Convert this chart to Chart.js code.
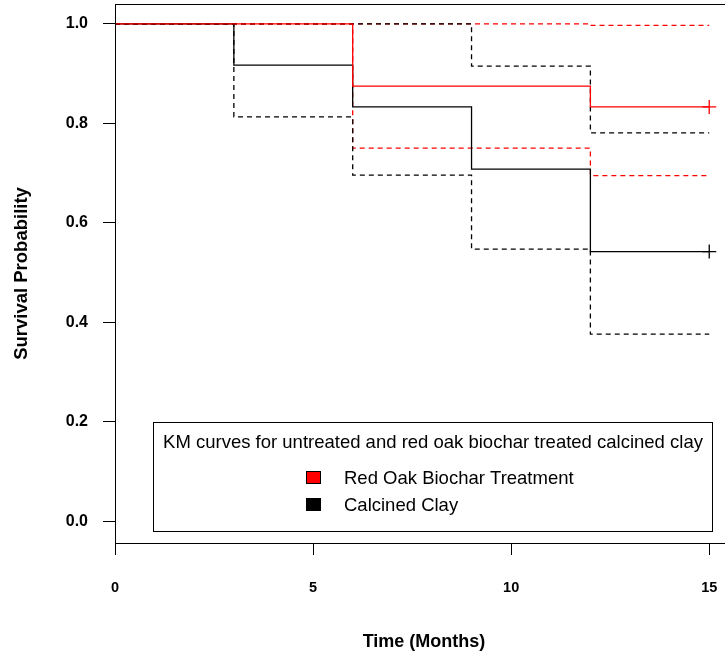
<!DOCTYPE html>
<html>
<head>
<meta charset="utf-8">
<script src="https://cdn.jsdelivr.net/npm/chart.js@4.4.0/dist/chart.umd.min.js"></script>
<style>
html, body { margin: 0; padding: 0; background: #fff; overflow: hidden; width: 725px; height: 655px; }
#wrap { width: 745px; height: 655px; }
</style>
</head>
<body>
<div id="wrap"><canvas id="km" width="745" height="655"></canvas></div>
<script>
// event times (months) and KM estimates
const times = [0, 3, 6, 9, 12, 15];
const biocharSurv = [1, 1, 0.875, 0.875, 0.833, 0.833];
const biocharUpper = [1, 1, 1, 1, 0.997, 0.997];
const biocharLower = [1, 1, 0.75, 0.75, 0.695, 0.695];
const claySurv = [1, 0.917, 0.833, 0.708, 0.542, 0.542];
const clayUpper = [1, 1, 1, 0.915, 0.781, 0.781];
const clayLower = [1, 0.813, 0.696, 0.547, 0.376, 0.376];

const censorTimes = [15];
const biocharCensor = [0.833];
const clayCensor = [0.542];

const xTicks = [0, 5, 10, 15];
const yTicks = [0, 0.2, 0.4, 0.6, 0.8, 1.0];
const legendTitle = 'KM curves for untreated and red oak biochar treated calcined clay';
const legendLabels = ['Red Oak Biochar Treatment', 'Calcined Clay'];
const legendColors = ['#ff0000', '#000000'];

Chart.defaults.font.family = '"Liberation Sans", Arial, sans-serif';
Chart.defaults.color = '#000';

function pts(xs, ys) {
    return xs.map((x, i) => ({ x: x, y: ys[i] }));
}

function stepLine(values, color, dashed) {
    return {
        data: pts(times, values),
        showLine: true,
        stepped: 'before',
        borderColor: color,
        borderWidth: 1.3,
        borderDash: dashed ? [5, 4] : [],
        pointRadius: 0,
        fill: false
    };
}

function censor(values, color) {
    return {
        data: pts(censorTimes, values),
        showLine: false,
        pointStyle: 'cross',
        pointRadius: 7,
        borderColor: color,
        borderWidth: 1.3
    };
}

// box around the plot region
const boxPlugin = {
    id: 'box',
    afterDraw(chart) {
        const { ctx, chartArea: a } = chart;
        ctx.save();
        ctx.strokeStyle = '#000';
        ctx.lineWidth = 1;
        ctx.strokeRect(Math.round(a.left) + 0.5, Math.round(a.top) + 0.5,
            Math.round(a.right - a.left), Math.round(a.bottom - a.top));
        ctx.restore();
    }
};

// R-style legend with title inside a box
const kmLegend = {
    id: 'kmLegend',
    afterDraw(chart) {
        const ctx = chart.ctx;
        const bx = 153.5, by = 422.5, bw = 559, bh = 109;
        ctx.save();
        ctx.fillStyle = '#fff';
        ctx.fillRect(bx, by, bw, bh);
        ctx.strokeStyle = '#000';
        ctx.lineWidth = 1;
        ctx.strokeRect(bx, by, bw, bh);

        ctx.fillStyle = '#000';
        ctx.font = '18.5px "Liberation Sans", Arial, sans-serif';
        ctx.textAlign = 'center';
        ctx.textBaseline = 'middle';
        ctx.fillText(legendTitle, bx + bw / 2, 443);

        ctx.textAlign = 'left';
        legendLabels.forEach((lab, i) => {
            const y = 478 + i * 27;
            ctx.fillStyle = legendColors[i];
            ctx.fillRect(306, y - 7, 15, 13);
            ctx.strokeStyle = '#000';
            ctx.strokeRect(306.5, y - 6.5, 14, 12);
            ctx.fillStyle = '#000';
            ctx.fillText(lab, 344, y + 1);
        });
        ctx.restore();
    }
};

new Chart(document.getElementById('km'), {
    type: 'scatter',
    data: {
        datasets: [
            censor(biocharCensor, '#ff0000'),
            censor(clayCensor, '#000000'),
            stepLine(biocharSurv, '#ff0000', false),
            stepLine(claySurv, '#000000', false),
            stepLine(clayUpper, '#000000', true),
            stepLine(clayLower, '#000000', true),
            stepLine(biocharUpper, '#ff0000', true),
            stepLine(biocharLower, '#ff0000', true)
        ]
    },
    options: {
        responsive: false,
        animation: false,
        devicePixelRatio: 1,
        layout: { autoPadding: false, padding: { top: 4, right: 12, left: 0, bottom: 0 } },
        plugins: {
            legend: { display: false },
            tooltip: { enabled: false }
        },
        scales: {
            x: {
                type: 'linear',
                min: 0,
                max: 15.6,
                afterBuildTicks: s => { s.ticks = xTicks.map(v => ({ value: v })); },
                afterFit: s => { s.height = 112; s.paddingLeft = 0; s.paddingRight = 0; },
                grid: { display: true, drawOnChartArea: false, drawTicks: true, tickLength: 12, color: '#000' },
                border: { display: false },
                ticks: {
                    autoSkip: false,
                    maxRotation: 0,
                    padding: 24,
                    color: '#000',
                    font: { size: 14.5, weight: 'bold' },
                    callback: v => String(v)
                },
                title: {
                    display: true,
                    text: 'Time (Months)',
                    color: '#000',
                    font: { size: 18, weight: 'bold' },
                    padding: { top: 0, bottom: 2 }
                }
            },
            y: {
                type: 'linear',
                min: -0.044,
                max: 1.04,
                afterBuildTicks: s => { s.ticks = yTicks.map(v => ({ value: v })); },
                afterFit: s => { s.width = 115; s.paddingTop = 0; s.paddingBottom = 0; },
                grid: { display: true, drawOnChartArea: false, drawTicks: true, tickLength: 12, color: '#000' },
                border: { display: false },
                ticks: {
                    autoSkip: false,
                    padding: 15,
                    color: '#000',
                    font: { size: 16, weight: 'bold' },
                    callback: v => v.toFixed(1)
                },
                title: {
                    display: true,
                    text: 'Survival Probability',
                    color: '#000',
                    font: { size: 18.5, weight: 'bold' },
                    padding: { top: 11, bottom: 0 }
                }
            }
        }
    },
    plugins: [boxPlugin, kmLegend]
});
</script>
</body>
</html>
